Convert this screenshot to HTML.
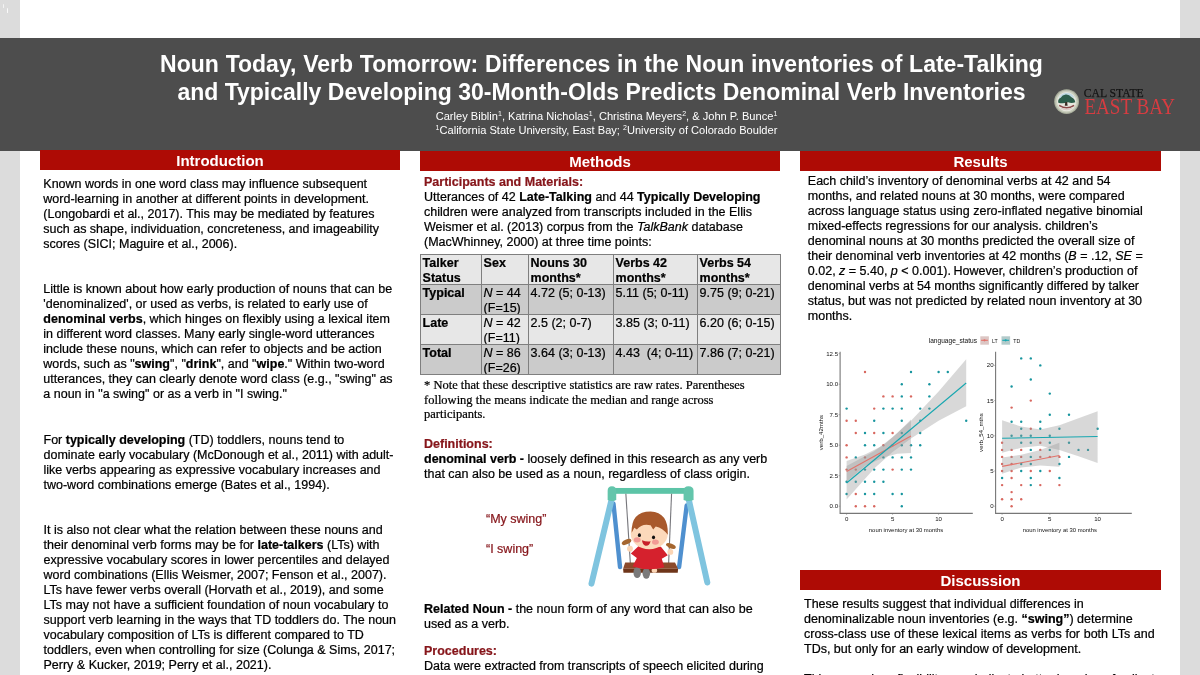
<!DOCTYPE html>
<html><head><meta charset="utf-8">
<style>
html,body{margin:0;padding:0;}
body{width:1200px;height:675px;overflow:hidden;background:#fff;position:relative;font-family:"Liberation Sans",sans-serif;color:#000;}
.abs{position:absolute;}
.strip{background:#dcdcdc;top:0;height:675px;width:20px;}
.band{left:0;top:38px;width:1200px;height:113px;background:#4d4d4d;}
.hdr{background:#ae0b05;color:#fff;font-weight:700;font-size:15px;text-align:center;height:20px;line-height:21.4px;overflow:hidden;}
.title{left:0;width:1203px;text-align:center;color:#fff;font-weight:700;font-size:23px;line-height:28px;white-space:nowrap;}
.auth{left:0;width:1213px;text-align:center;color:#fff;font-size:11.1px;line-height:14px;white-space:nowrap;}
.auth sup{font-size:7px;vertical-align:baseline;position:relative;top:-4px;line-height:0;}
.txt{font-size:12.5px;line-height:15px;white-space:nowrap;-webkit-text-stroke:0.22px currentColor;}
.red{color:#86151a;font-weight:700;}
b{font-weight:700;}
.serif{font-family:"Liberation Serif",serif;}
.tbl{font-size:12.5px;line-height:15px;white-space:nowrap;-webkit-text-stroke:0.22px currentColor;}
.c{box-sizing:border-box;border:1px solid #7f7f7f;padding:0.8px 0 0 1.6px;overflow:hidden;}
.c.h{background:#e7e7e7;}
.c.d{background:#cbcbcb;}
</style></head><body>
<div class="abs strip" style="left:0"></div>
<div class="abs strip" style="left:1180px"></div>
<div class="abs band"></div>
<div class="abs" style="left:2.5px;top:4px;width:1.6px;height:4px;background:#f4f4f4;border-radius:1px"></div><div class="abs" style="left:6.6px;top:8px;width:1.4px;height:4.5px;background:#fafafa;border-radius:1px"></div>
<div class="abs title" style="top:49.5px"><span style="word-spacing:0.4px">Noun Today, Verb Tomorrow: Differences in the Noun inventories of Late-Talking</span><br>and Typically Developing 30-Month-Olds Predicts Denominal Verb Inventories</div>
<div class="abs auth" style="top:109.2px">Carley Biblin<sup>1</sup>, Katrina Nicholas<sup>1</sup>, Christina Meyers<sup>2</sup>, &amp; John P. Bunce<sup>1</sup><br><sup>1</sup>California State University, East Bay; <sup>2</sup>University of Colorado Boulder</div>

<div class="abs hdr" style="left:40px;top:150px;width:360px">Introduction</div>
<div class="abs hdr" style="left:420px;top:151px;width:360px">Methods</div>
<div class="abs hdr" style="left:800px;top:151px;width:361px">Results</div>
<div class="abs hdr" style="left:800px;top:570px;width:361px">Discussion</div>

<!-- LOGO -->
<svg class="abs" style="left:1040px;top:75px" width="150" height="55" viewBox="0 0 150 55">
<g transform="translate(-0.3 -0.9)">
<circle cx="26.9" cy="27.5" r="12.4" fill="#a9ae9c"/>
<circle cx="26.9" cy="27.5" r="11.2" fill="#c9cdbd"/>
<circle cx="26.9" cy="27.5" r="9.6" fill="#e6e7de"/>
<path d="M19 24Q21 19 26.9 18.6Q33 19 35 24Q31 22 26.9 23Z" fill="#bfd9e2"/>
<path d="M18.6 28.6Q17.8 25 21 23.6Q22.5 20.8 26 20.4Q29.5 20 31.5 23Q35 24.6 35.6 28.2Q32 29.6 28.4 28.2Q23 30 18.6 28.6Z" fill="#2c5e4b"/>
<path d="M25.6 28h1.8l0.5 3.6h-2.8z" fill="#3a2c24"/>
<path d="M19.5 31.2Q26.9 36 34.4 31.2" stroke="#8a4848" stroke-width="1.5" fill="none"/>
<path d="M21 33.6Q26.9 37.4 32.8 33.6" stroke="#d9c9c4" stroke-width="1.2" fill="none"/>
</g>
<text x="43.7" y="22.2" font-family="Liberation Serif, serif" font-size="13.4" fill="#141414" stroke="#141414" stroke-width="0.25" textLength="60" lengthAdjust="spacingAndGlyphs">CAL STATE</text>
<text x="44.4" y="39.4" font-family="Liberation Serif, serif" font-size="23.6" fill="#d63c41" textLength="90.6" lengthAdjust="spacingAndGlyphs">EAST BAY</text>
</svg>
<!-- INTRO -->
<div class="abs txt" style="left:43.3px;top:177.2px">Known words in one word class may influence subsequent<br>word-learning in another at different points in development.<br>(Longobardi et al., 2017). This may be mediated by features<br>such as shape, individuation, concreteness, and imageability<br>scores (SICI; Maguire et al., 2006).</div>
<div class="abs txt" style="left:43.3px;top:282.2px">Little is known about how early production of nouns that can be<br>'denominalized', or used as verbs, is related to early use of<br><b>denominal verbs</b>, which hinges on flexibly using a lexical item<br>in different word classes. Many early single-word utterances<br>include these nouns, which can refer to objects and be action<br>words, such as "<b>swing</b>", "<b>drink</b>", and "<b>wipe</b>." Within two-word<br>utterances, they can clearly denote word class (e.g., "swing" as<br>a noun in "a swing" or as a verb in "I swing."</div>
<div class="abs txt" style="left:43.5px;top:432.7px">For <b>typically developing</b> (TD) toddlers, nouns tend to<br>dominate early vocabulary (McDonough et al., 2011) with adult-<br>like verbs appearing as expressive vocabulary increases and<br>two-word combinations emerge (Bates et al., 1994).</div>
<div class="abs txt" style="left:43.5px;top:522.8px">It is also not clear what the relation between these nouns and<br>their denominal verb forms may be for <b>late-talkers</b> (LTs) with<br>expressive vocabulary scores in lower percentiles and delayed<br>word combinations (Ellis Weismer, 2007; Fenson et al., 2007).<br>LTs have fewer verbs overall (Horvath et al., 2019), and some<br>LTs may not have a sufficient foundation of noun vocabulary to<br>support verb learning in the ways that TD toddlers do. The noun<br>vocabulary composition of LTs is different compared to TD<br>toddlers, even when controlling for size (Colunga &amp; Sims, 2017;<br>Perry &amp; Kucker, 2019; Perry et al., 2021).</div>

<!-- METHODS -->
<div class="abs txt" style="left:424px;top:175px"><span class="red">Participants and Materials:</span><br>Utterances of 42 <b>Late-Talking</b> and 44 <b>Typically Developing</b><br>children were analyzed from transcripts included in the Ellis<br>Weismer et al. (2013) corpus from the <i>TalkBank</i> database<br>(MacWhinney, 2000) at three time points:</div>
<div class="abs tbl" style="left:420px;top:254px;width:361px;height:120px;">
 <div class="abs c h" style="left:0px;top:0px;width:62px;height:31px"><b>Talker<br>Status</b></div>
 <div class="abs c h" style="left:61px;top:0px;width:48px;height:31px"><b>Sex</b></div>
 <div class="abs c h" style="left:108px;top:0px;width:86px;height:31px"><b>Nouns 30<br>months*</b></div>
 <div class="abs c h" style="left:193px;top:0px;width:85px;height:31px"><b>Verbs 42<br>months*</b></div>
 <div class="abs c h" style="left:277px;top:0px;width:84px;height:31px"><b>Verbs 54<br>months*</b></div>

 <div class="abs c d" style="left:0px;top:30px;width:62px;height:31px"><b>Typical</b></div>
 <div class="abs c d" style="left:61px;top:30px;width:48px;height:31px"><i>N</i> = 44<br>(F=15)</div>
 <div class="abs c d" style="left:108px;top:30px;width:86px;height:31px">4.72 (5; 0-13)</div>
 <div class="abs c d" style="left:193px;top:30px;width:85px;height:31px">5.11 (5; 0-11)</div>
 <div class="abs c d" style="left:277px;top:30px;width:84px;height:31px">9.75 (9; 0-21)</div>

 <div class="abs c h" style="left:0px;top:60px;width:62px;height:31px"><b>Late</b></div>
 <div class="abs c h" style="left:61px;top:60px;width:48px;height:31px"><i>N</i> = 42<br>(F=11)</div>
 <div class="abs c h" style="left:108px;top:60px;width:86px;height:31px">2.5 (2; 0-7)</div>
 <div class="abs c h" style="left:193px;top:60px;width:85px;height:31px">3.85 (3; 0-11)</div>
 <div class="abs c h" style="left:277px;top:60px;width:84px;height:31px">6.20 (6; 0-15)</div>

 <div class="abs c d" style="left:0px;top:90px;width:62px;height:31px"><b>Total</b></div>
 <div class="abs c d" style="left:61px;top:90px;width:48px;height:31px"><i>N</i> = 86<br>(F=26)</div>
 <div class="abs c d" style="left:108px;top:90px;width:86px;height:31px">3.64 (3; 0-13)</div>
 <div class="abs c d" style="left:193px;top:90px;width:85px;height:31px">4.43&nbsp; (4; 0-11)</div>
 <div class="abs c d" style="left:277px;top:90px;width:84px;height:31px">7.86 (7; 0-21)</div>
</div>
<div class="abs txt serif" style="left:424px;top:378px;line-height:14.7px">* Note that these descriptive statistics are raw rates. Parentheses<br>following the means indicate the median and range across<br>participants.</div>
<div class="abs txt" style="left:424px;top:437.4px"><span class="red">Definitions:</span><br><b>denominal verb -</b> loosely defined in this research as any verb<br>that can also be used as a noun, regardless of class origin.</div>
<div class="abs txt" style="left:486px;top:512.4px;color:#86151a">“My swing”</div>
<div class="abs txt" style="left:486px;top:542.4px;color:#86151a">“I swing”</div>
<!-- SWINGSTART --><svg class="abs" style="left:575px;top:478px" width="150" height="116" viewBox="0 0 150 116"><line x1="38.49" y1="25.77" x2="45.02" y2="89.00" stroke="#4f90cf" stroke-width="4.4" stroke-linecap="round"/><line x1="111.68" y1="27.49" x2="104.12" y2="89.00" stroke="#4f90cf" stroke-width="4.4" stroke-linecap="round"/><line x1="36.60" y1="21.48" x2="16.49" y2="105.67" stroke="#7fc4df" stroke-width="6" stroke-linecap="round"/><line x1="113.75" y1="21.48" x2="132.30" y2="104.47" stroke="#7fc4df" stroke-width="6" stroke-linecap="round"/><rect x="35.22" y="9.97" width="79.90" height="5.84" fill="#5cc4a7"/><path d="M32.65 21.99V12.89Q32.65 8.25 36.94 8.25Q41.24 8.25 41.24 12.89V21.99Q36.94 24.05 32.65 21.99Z" fill="#63c5ab"/><path d="M108.59 21.99V12.89Q108.59 8.25 113.40 8.25Q118.56 8.25 118.56 12.89V21.99Q113.40 24.05 108.59 21.99Z" fill="#63c5ab"/><line x1="50.86" y1="15.81" x2="55.33" y2="85.05" stroke="#77777c" stroke-width="1.1"/><line x1="96.56" y1="15.81" x2="93.64" y2="85.05" stroke="#77777c" stroke-width="1.1"/><polygon points="50.17,84.54 100.00,84.54 103.09,90.72 48.11,90.72" fill="#8b4a2b"/><polygon points="48.11,90.72 103.09,90.72 102.75,94.85 48.45,94.85" fill="#6e3519"/><ellipse cx="62.20" cy="94.50" rx="3.78" ry="5.50" fill="#7a7a7a"/><ellipse cx="71.31" cy="95.36" rx="3.78" ry="5.50" fill="#7a7a7a"/><ellipse cx="79.38" cy="92.44" rx="2.75" ry="2.41" fill="#fbd5b5"/><ellipse cx="51.55" cy="63.92" rx="5.15" ry="2.41" transform="rotate(-25 51.55 63.92)" fill="#a5662f"/><ellipse cx="95.88" cy="68.04" rx="5.15" ry="2.41" transform="rotate(20 95.88 68.04)" fill="#a5662f"/><ellipse cx="59.28" cy="69.59" rx="4.47" ry="3.78" fill="#fff"/><ellipse cx="89.00" cy="70.79" rx="4.47" ry="3.78" fill="#fff"/><path d="M63.92 67.87L85.91 68.73L92.78 77.32L86.77 80.76L89.35 89.35Q73.88 93.64 57.56 88.49L61.86 79.90L55.84 75.60Z" fill="#d5212d"/><circle cx="54.98" cy="70.79" r="2.92" fill="#fbd5b5"/><circle cx="95.36" cy="73.88" r="2.92" fill="#fbd5b5"/><ellipse cx="74.23" cy="55.84" rx="18.56" ry="15.46" fill="#fcd9bb"/><path d="M56.70 54.64Q55.84 33.51 75.60 33.51Q93.64 34.36 92.78 56.70Q87.63 49.83 80.76 48.45L78.18 51.55L75.60 47.25Q67.01 45.02 61.86 51.55L59.28 49.83Z" fill="#a8592c"/><ellipse cx="62.20" cy="61.86" rx="3.44" ry="2.58" fill="#f29a94"/><ellipse cx="80.41" cy="64.09" rx="3.44" ry="2.58" fill="#f29a94"/><ellipse cx="64.43" cy="57.22" rx="1.55" ry="1.89" fill="#111"/><ellipse cx="78.52" cy="59.28" rx="1.55" ry="1.89" fill="#111"/><path d="M67.01 62.20Q71.31 63.92 75.60 63.23Q74.23 68.38 70.45 67.70Q67.35 66.67 67.01 62.20Z" fill="#c8202a"/></svg><!-- SWINGEND -->
<div class="abs txt" style="left:424px;top:602.1px"><b>Related Noun -</b> the noun form of any word that can also be<br>used as a verb.</div>
<div class="abs txt" style="left:424px;top:644px"><span class="red">Procedures:</span><br>Data were extracted from transcripts of speech elicited during</div>
<!-- RESULTS -->
<div class="abs txt" style="left:807.8px;top:173.9px">Each child’s inventory of denominal verbs at 42 and 54<br>months, and related nouns at 30 months, were compared<br>across language status using zero-inflated negative binomial<br>mixed-effects regressions for our analysis. children’s<br>denominal nouns at 30 months predicted the overall size of<br>their denominal verb inventories at 42 months (<i>B</i> = .12, <i>SE</i> =<br>0.02, <i>z</i> = 5.40, <i>p</i> &lt; 0.001).&#8201;However, children’s production of<br>denominal verbs at 54 months significantly differed by talker<br>status, but was not predicted by related noun inventory at 30<br>months.</div>
<!-- CHARTSTART --><svg class="abs" style="left:800px;top:325px" width="380" height="220" viewBox="0 0 380 220" font-family="Liberation Sans, sans-serif" stroke="none"><circle cx="55.8" cy="181.2" r="1.2" fill="#d8675f"/><circle cx="65.0" cy="181.2" r="1.2" fill="#d8675f"/><circle cx="74.2" cy="181.2" r="1.2" fill="#d8675f"/><circle cx="101.8" cy="181.2" r="1.2" fill="#17959e"/><circle cx="55.8" cy="169.0" r="1.2" fill="#d8675f"/><circle cx="46.6" cy="169.0" r="1.2" fill="#17959e"/><circle cx="65.0" cy="169.0" r="1.2" fill="#17959e"/><circle cx="74.2" cy="169.0" r="1.2" fill="#17959e"/><circle cx="92.6" cy="169.0" r="1.2" fill="#17959e"/><circle cx="101.8" cy="169.0" r="1.2" fill="#17959e"/><circle cx="46.6" cy="156.8" r="1.2" fill="#17959e"/><circle cx="55.8" cy="156.8" r="1.2" fill="#17959e"/><circle cx="65.0" cy="156.8" r="1.2" fill="#17959e"/><circle cx="74.2" cy="156.8" r="1.2" fill="#17959e"/><circle cx="83.4" cy="156.8" r="1.2" fill="#17959e"/><circle cx="46.6" cy="144.6" r="1.2" fill="#d8675f"/><circle cx="55.8" cy="144.6" r="1.2" fill="#d8675f"/><circle cx="92.6" cy="144.6" r="1.2" fill="#d8675f"/><circle cx="65.0" cy="144.6" r="1.2" fill="#17959e"/><circle cx="74.2" cy="144.6" r="1.2" fill="#17959e"/><circle cx="83.4" cy="144.6" r="1.2" fill="#17959e"/><circle cx="101.8" cy="144.6" r="1.2" fill="#17959e"/><circle cx="111.0" cy="144.6" r="1.2" fill="#17959e"/><circle cx="46.6" cy="132.4" r="1.2" fill="#d8675f"/><circle cx="65.0" cy="132.4" r="1.2" fill="#d8675f"/><circle cx="55.8" cy="132.4" r="1.2" fill="#17959e"/><circle cx="83.4" cy="132.4" r="1.2" fill="#17959e"/><circle cx="92.6" cy="132.4" r="1.2" fill="#17959e"/><circle cx="101.8" cy="132.4" r="1.2" fill="#17959e"/><circle cx="111.0" cy="132.4" r="1.2" fill="#17959e"/><circle cx="46.6" cy="120.2" r="1.2" fill="#d8675f"/><circle cx="83.4" cy="120.2" r="1.2" fill="#d8675f"/><circle cx="92.6" cy="120.2" r="1.2" fill="#d8675f"/><circle cx="65.0" cy="120.2" r="1.2" fill="#17959e"/><circle cx="74.2" cy="120.2" r="1.2" fill="#17959e"/><circle cx="101.8" cy="120.2" r="1.2" fill="#17959e"/><circle cx="111.0" cy="120.2" r="1.2" fill="#17959e"/><circle cx="120.2" cy="120.2" r="1.2" fill="#17959e"/><circle cx="55.8" cy="108.0" r="1.2" fill="#d8675f"/><circle cx="74.2" cy="108.0" r="1.2" fill="#d8675f"/><circle cx="92.6" cy="108.0" r="1.2" fill="#d8675f"/><circle cx="65.0" cy="108.0" r="1.2" fill="#17959e"/><circle cx="83.4" cy="108.0" r="1.2" fill="#17959e"/><circle cx="101.8" cy="108.0" r="1.2" fill="#17959e"/><circle cx="120.2" cy="108.0" r="1.2" fill="#17959e"/><circle cx="46.6" cy="95.8" r="1.2" fill="#d8675f"/><circle cx="55.8" cy="95.8" r="1.2" fill="#d8675f"/><circle cx="74.2" cy="95.8" r="1.2" fill="#17959e"/><circle cx="101.8" cy="95.8" r="1.2" fill="#17959e"/><circle cx="120.2" cy="95.8" r="1.2" fill="#17959e"/><circle cx="166.2" cy="95.8" r="1.2" fill="#17959e"/><circle cx="74.2" cy="83.6" r="1.2" fill="#d8675f"/><circle cx="46.6" cy="83.6" r="1.2" fill="#17959e"/><circle cx="83.4" cy="83.6" r="1.2" fill="#17959e"/><circle cx="92.6" cy="83.6" r="1.2" fill="#17959e"/><circle cx="101.8" cy="83.6" r="1.2" fill="#17959e"/><circle cx="120.2" cy="83.6" r="1.2" fill="#17959e"/><circle cx="129.4" cy="83.6" r="1.2" fill="#17959e"/><circle cx="83.4" cy="71.4" r="1.2" fill="#d8675f"/><circle cx="92.6" cy="71.4" r="1.2" fill="#d8675f"/><circle cx="111.0" cy="71.4" r="1.2" fill="#d8675f"/><circle cx="101.8" cy="71.4" r="1.2" fill="#17959e"/><circle cx="129.4" cy="71.4" r="1.2" fill="#17959e"/><circle cx="101.8" cy="59.2" r="1.2" fill="#17959e"/><circle cx="129.4" cy="59.2" r="1.2" fill="#17959e"/><circle cx="65.0" cy="47.0" r="1.2" fill="#d8675f"/><circle cx="111.0" cy="47.0" r="1.2" fill="#17959e"/><circle cx="138.6" cy="47.0" r="1.2" fill="#17959e"/><circle cx="147.8" cy="47.0" r="1.2" fill="#17959e"/><polygon points="46.6,136.1 65.0,129.4 83.4,120.2 97.2,108.0 111.0,94.6 111.0,128.1 97.2,128.7 83.4,132.4 65.0,140.9 46.6,156.8" fill="#999" fill-opacity="0.38"/><polygon points="46.6,140.9 74.2,126.3 92.6,112.3 111.0,95.8 138.6,66.5 166.2,34.2 166.2,81.2 138.6,95.8 111.0,113.5 92.6,126.9 74.2,143.4 46.6,174.5" fill="#999" fill-opacity="0.38"/><line x1="46.6" y1="146.4" x2="111.0" y2="111.1" stroke="#e2736b" stroke-width="1.1"/><line x1="46.6" y1="158.0" x2="166.2" y2="58.0" stroke="#17a7b0" stroke-width="1.1"/><circle cx="211.6" cy="181.2" r="1.2" fill="#d8675f"/><circle cx="202.1" cy="174.2" r="1.2" fill="#d8675f"/><circle cx="211.6" cy="174.2" r="1.2" fill="#d8675f"/><circle cx="221.2" cy="174.2" r="1.2" fill="#d8675f"/><circle cx="211.6" cy="167.1" r="1.2" fill="#d8675f"/><circle cx="202.1" cy="160.1" r="1.2" fill="#d8675f"/><circle cx="221.2" cy="160.1" r="1.2" fill="#d8675f"/><circle cx="240.3" cy="160.1" r="1.2" fill="#d8675f"/><circle cx="259.4" cy="160.1" r="1.2" fill="#d8675f"/><circle cx="230.8" cy="160.1" r="1.2" fill="#17959e"/><circle cx="211.6" cy="153.0" r="1.2" fill="#d8675f"/><circle cx="202.1" cy="153.0" r="1.2" fill="#17959e"/><circle cx="230.8" cy="153.0" r="1.2" fill="#17959e"/><circle cx="259.4" cy="153.0" r="1.2" fill="#17959e"/><circle cx="202.1" cy="146.0" r="1.2" fill="#d8675f"/><circle cx="211.6" cy="146.0" r="1.2" fill="#d8675f"/><circle cx="230.8" cy="146.0" r="1.2" fill="#d8675f"/><circle cx="249.8" cy="146.0" r="1.2" fill="#d8675f"/><circle cx="221.2" cy="146.0" r="1.2" fill="#17959e"/><circle cx="240.3" cy="146.0" r="1.2" fill="#17959e"/><circle cx="202.1" cy="139.0" r="1.2" fill="#d8675f"/><circle cx="211.6" cy="139.0" r="1.2" fill="#d8675f"/><circle cx="221.2" cy="139.0" r="1.2" fill="#17959e"/><circle cx="230.8" cy="139.0" r="1.2" fill="#17959e"/><circle cx="259.4" cy="139.0" r="1.2" fill="#17959e"/><circle cx="202.1" cy="131.9" r="1.2" fill="#d8675f"/><circle cx="211.6" cy="131.9" r="1.2" fill="#d8675f"/><circle cx="221.2" cy="131.9" r="1.2" fill="#d8675f"/><circle cx="240.3" cy="131.9" r="1.2" fill="#d8675f"/><circle cx="249.8" cy="131.9" r="1.2" fill="#d8675f"/><circle cx="259.4" cy="131.9" r="1.2" fill="#d8675f"/><circle cx="230.8" cy="131.9" r="1.2" fill="#17959e"/><circle cx="269.0" cy="131.9" r="1.2" fill="#17959e"/><circle cx="202.1" cy="124.9" r="1.2" fill="#d8675f"/><circle cx="211.6" cy="124.9" r="1.2" fill="#d8675f"/><circle cx="221.2" cy="124.9" r="1.2" fill="#d8675f"/><circle cx="240.3" cy="124.9" r="1.2" fill="#d8675f"/><circle cx="230.8" cy="124.9" r="1.2" fill="#17959e"/><circle cx="249.8" cy="124.9" r="1.2" fill="#17959e"/><circle cx="278.5" cy="124.9" r="1.2" fill="#17959e"/><circle cx="288.0" cy="124.9" r="1.2" fill="#17959e"/><circle cx="202.1" cy="117.8" r="1.2" fill="#d8675f"/><circle cx="240.3" cy="117.8" r="1.2" fill="#d8675f"/><circle cx="221.2" cy="117.8" r="1.2" fill="#17959e"/><circle cx="230.8" cy="117.8" r="1.2" fill="#17959e"/><circle cx="249.8" cy="117.8" r="1.2" fill="#17959e"/><circle cx="269.0" cy="117.8" r="1.2" fill="#17959e"/><circle cx="211.6" cy="110.8" r="1.2" fill="#17959e"/><circle cx="221.2" cy="110.8" r="1.2" fill="#17959e"/><circle cx="230.8" cy="110.8" r="1.2" fill="#17959e"/><circle cx="249.8" cy="110.8" r="1.2" fill="#17959e"/><circle cx="230.8" cy="103.8" r="1.2" fill="#d8675f"/><circle cx="221.2" cy="103.8" r="1.2" fill="#17959e"/><circle cx="240.3" cy="103.8" r="1.2" fill="#17959e"/><circle cx="259.4" cy="103.8" r="1.2" fill="#17959e"/><circle cx="297.6" cy="103.8" r="1.2" fill="#17959e"/><circle cx="211.6" cy="96.7" r="1.2" fill="#17959e"/><circle cx="221.2" cy="96.7" r="1.2" fill="#17959e"/><circle cx="240.3" cy="96.7" r="1.2" fill="#17959e"/><circle cx="249.8" cy="89.7" r="1.2" fill="#17959e"/><circle cx="269.0" cy="89.7" r="1.2" fill="#17959e"/><circle cx="211.6" cy="82.6" r="1.2" fill="#d8675f"/><circle cx="230.8" cy="75.6" r="1.2" fill="#d8675f"/><circle cx="249.8" cy="68.6" r="1.2" fill="#17959e"/><circle cx="211.6" cy="61.5" r="1.2" fill="#17959e"/><circle cx="230.8" cy="54.5" r="1.2" fill="#17959e"/><circle cx="240.3" cy="40.4" r="1.2" fill="#17959e"/><circle cx="221.2" cy="33.4" r="1.2" fill="#17959e"/><circle cx="230.8" cy="33.4" r="1.2" fill="#17959e"/><polygon points="202.1,132.6 221.2,129.8 240.3,124.9 259.4,117.8 259.4,141.8 240.3,140.4 221.2,142.5 202.1,148.8" fill="#999" fill-opacity="0.38"/><polygon points="202.1,95.3 221.2,101.6 240.3,104.5 259.4,100.2 278.5,93.2 297.6,86.2 297.6,137.9 278.5,131.2 259.4,124.9 240.3,120.7 221.2,122.8 202.1,127.7" fill="#999" fill-opacity="0.38"/><line x1="202.1" y1="141.4" x2="259.4" y2="130.5" stroke="#e2736b" stroke-width="1.1"/><line x1="202.1" y1="113.3" x2="297.6" y2="111.5" stroke="#17a7b0" stroke-width="1.1"/><path d="M40.1 26.7V188.4H172.8" fill="none" stroke="#777" stroke-width="1.1"/><path d="M195.6 26.7V188.4H331.8" fill="none" stroke="#777" stroke-width="1.1"/><line x1="38.6" x2="40.1" y1="181.2" y2="181.2" stroke="#777" stroke-width="0.5"/><text x="38.1" y="183.2" font-size="6.1" text-anchor="end" fill="#111">0.0</text><line x1="38.6" x2="40.1" y1="150.7" y2="150.7" stroke="#777" stroke-width="0.5"/><text x="38.1" y="152.7" font-size="6.1" text-anchor="end" fill="#111">2.5</text><line x1="38.6" x2="40.1" y1="120.2" y2="120.2" stroke="#777" stroke-width="0.5"/><text x="38.1" y="122.2" font-size="6.1" text-anchor="end" fill="#111">5.0</text><line x1="38.6" x2="40.1" y1="89.7" y2="89.7" stroke="#777" stroke-width="0.5"/><text x="38.1" y="91.7" font-size="6.1" text-anchor="end" fill="#111">7.5</text><line x1="38.6" x2="40.1" y1="59.2" y2="59.2" stroke="#777" stroke-width="0.5"/><text x="38.1" y="61.2" font-size="6.1" text-anchor="end" fill="#111">10.0</text><line x1="38.6" x2="40.1" y1="28.7" y2="28.7" stroke="#777" stroke-width="0.5"/><text x="38.1" y="30.7" font-size="6.1" text-anchor="end" fill="#111">12.5</text><line x1="46.6" x2="46.6" y1="188.4" y2="189.9" stroke="#777" stroke-width="0.5"/><text x="46.6" y="195.9" font-size="6.1" text-anchor="middle" fill="#111">0</text><line x1="92.6" x2="92.6" y1="188.4" y2="189.9" stroke="#777" stroke-width="0.5"/><text x="92.6" y="195.9" font-size="6.1" text-anchor="middle" fill="#111">5</text><line x1="138.6" x2="138.6" y1="188.4" y2="189.9" stroke="#777" stroke-width="0.5"/><text x="138.6" y="195.9" font-size="6.1" text-anchor="middle" fill="#111">10</text><line x1="194.1" x2="195.6" y1="181.2" y2="181.2" stroke="#777" stroke-width="0.5"/><text x="193.6" y="183.2" font-size="6.1" text-anchor="end" fill="#111">0</text><line x1="194.1" x2="195.6" y1="146.0" y2="146.0" stroke="#777" stroke-width="0.5"/><text x="193.6" y="148.0" font-size="6.1" text-anchor="end" fill="#111">5</text><line x1="194.1" x2="195.6" y1="110.8" y2="110.8" stroke="#777" stroke-width="0.5"/><text x="193.6" y="112.8" font-size="6.1" text-anchor="end" fill="#111">10</text><line x1="194.1" x2="195.6" y1="75.6" y2="75.6" stroke="#777" stroke-width="0.5"/><text x="193.6" y="77.6" font-size="6.1" text-anchor="end" fill="#111">15</text><line x1="194.1" x2="195.6" y1="40.4" y2="40.4" stroke="#777" stroke-width="0.5"/><text x="193.6" y="42.4" font-size="6.1" text-anchor="end" fill="#111">20</text><line x1="202.1" x2="202.1" y1="188.4" y2="189.9" stroke="#777" stroke-width="0.5"/><text x="202.1" y="195.9" font-size="6.1" text-anchor="middle" fill="#111">0</text><line x1="249.8" x2="249.8" y1="188.4" y2="189.9" stroke="#777" stroke-width="0.5"/><text x="249.8" y="195.9" font-size="6.1" text-anchor="middle" fill="#111">5</text><line x1="297.6" x2="297.6" y1="188.4" y2="189.9" stroke="#777" stroke-width="0.5"/><text x="297.6" y="195.9" font-size="6.1" text-anchor="middle" fill="#111">10</text><text x="106" y="207" font-size="5.9" text-anchor="middle" fill="#111">noun inventory at 30 months</text><text x="259.8" y="207" font-size="5.9" text-anchor="middle" fill="#111">noun inventory at 30 months</text><text transform="translate(22.5 107.6) rotate(-90)" font-size="6.1" text-anchor="middle" fill="#111">verb_42mths</text><text transform="translate(183.0 107.6) rotate(-90)" font-size="6.1" text-anchor="middle" fill="#111">verb_54_mths</text><text x="128.7" y="18.0" font-size="6.6" fill="#111">language_status</text><rect x="180.3" y="11.3" width="8.6" height="8.4" fill="#dcc6c4"/><line x1="181.1" x2="187.9" y1="15.3" y2="15.3" stroke="#e2736b" stroke-width="1.1"/><circle cx="184.5" cy="15.3" r="1.1" fill="#e2736b"/><text x="192.1" y="17.5" font-size="5.2" fill="#111">LT</text><rect x="201.5" y="11.3" width="8.6" height="8.4" fill="#b3caca"/><line x1="202.3" x2="209.1" y1="15.3" y2="15.3" stroke="#17a7b0" stroke-width="1.1"/><circle cx="205.7" cy="15.3" r="1.1" fill="#17a7b0"/><text x="213.3" y="17.5" font-size="5.2" fill="#111">TD</text></svg><!-- CHARTEND -->
<!-- DISCUSSION -->
<div class="abs txt" style="left:804px;top:597.1px">These results suggest that individual differences in<br>denominalizable noun inventories (e.g. <b>“swing”</b>) determine<br><span style="word-spacing:0.2px">cross-class use of these lexical items as verbs for both LTs and</span><br>TDs, but only for an early window of development.</div>
<div class="abs txt" style="left:804px;top:672.3px">This cross-class flexibility may indicate better learning of salient</div>
</body></html>
